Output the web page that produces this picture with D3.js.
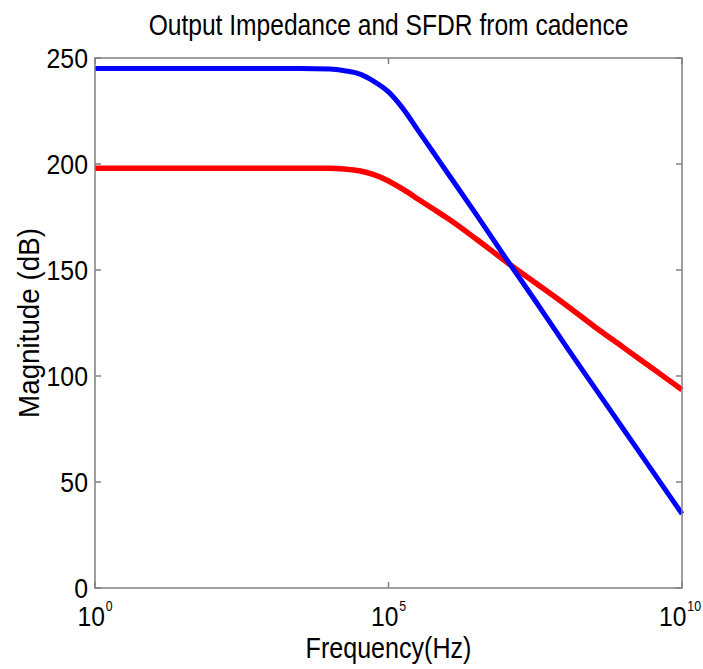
<!DOCTYPE html>
<html>
<head>
<meta charset="utf-8">
<script src="https://cdn.jsdelivr.net/npm/d3@7"></script>
<style>
  body { margin: 0; background: #fff; }
  svg { display: block; font-family: "Liberation Sans", Arial, sans-serif; }
</style>
</head>
<body>
<svg id="chart" width="703" height="669"></svg>
<script>
// frequency points as decades (10^x Hz)
const freqExp = [0, 1, 2, 3, 3.5, 4, 4.25, 4.5, 4.75, 5, 5.25, 5.5, 5.75, 6, 6.5, 7, 7.5, 8, 8.5, 9, 9.5, 10];
// output impedance (blue)
const impedance = [245, 245, 245, 245, 245, 244.8, 244, 242.5, 239, 234, 226, 216, 206, 196, 176, 155.5, 135.5, 115, 95, 75, 55, 35];
// SFDR (red)
const sfdr = [198, 198, 198, 198, 198, 198, 197.6, 196.8, 195, 192, 188, 183.5, 179, 174.5, 164.5, 154, 144, 134, 123.5, 113.5, 103.5, 93.5];
const yTicks = [0, 50, 100, 150, 200, 250];
const xTickExp = [0, 5, 10];

const svg = d3.select('#chart');
const margin = { top: 58, right: 21, bottom: 81, left: 95 };
const width = +svg.attr('width');
const height = +svg.attr('height');
const innerW = width - margin.left - margin.right;
const innerH = height - margin.top - margin.bottom;

const x = d3.scaleLog().domain([1, 1e10]).range([0, innerW]);
const y = d3.scaleLinear().domain([0, 250]).range([innerH, 0]);

const g = svg.append('g').attr('transform', `translate(${margin.left},${margin.top})`);

const axisColor = '#808080';
const tickLen = 6;

// ticks pointing inward on all four sides
const xt = xTickExp.map(e => Math.pow(10, e));
[0, innerH].forEach((yy, i) => {
  g.selectAll(null).data(xt).enter().append('line')
    .attr('x1', d => x(d)).attr('x2', d => x(d))
    .attr('y1', yy).attr('y2', i === 0 ? yy + tickLen : yy - tickLen)
    .attr('stroke', axisColor).attr('stroke-width', 1.5);
});
[0, innerW].forEach((xx, i) => {
  g.selectAll(null).data(yTicks).enter().append('line')
    .attr('y1', d => y(d)).attr('y2', d => y(d))
    .attr('x1', xx).attr('x2', i === 0 ? xx + tickLen : xx - tickLen)
    .attr('stroke', axisColor).attr('stroke-width', 1.5);
});

const line = vals => d3.line()
  .x((d, i) => x(Math.pow(10, freqExp[i])))
  .y(d => y(d))
  .curve(d3.curveMonotoneX)(vals);

g.append('path').attr('d', line(sfdr))
  .attr('fill', 'none').attr('stroke', '#ff0000').attr('stroke-width', 5.5);
g.append('path').attr('d', line(impedance))
  .attr('fill', 'none').attr('stroke', '#0000ff').attr('stroke-width', 5);

g.append('rect')
  .attr('width', innerW).attr('height', innerH)
  .attr('fill', 'none').attr('stroke', axisColor).attr('stroke-width', 1.5);

// y tick labels, slightly condensed like the original
g.selectAll('.ylab').data(yTicks).enter().append('text')
  .attr('class', 'ylab')
  .attr('transform', d => `translate(-7,${y(d)}) scale(0.92,1)`)
  .attr('dy', '0.36em')
  .attr('text-anchor', 'end')
  .attr('font-size', 27)
  .text(d => d);

// x tick labels 10^n, centred on the tick; the last one kept inside the figure
const lastExp = xTickExp[xTickExp.length - 1];
const xl = g.selectAll('.xlab').data(xTickExp).enter().append('text')
  .attr('class', 'xlab')
  .attr('transform', d => {
    const px = d === lastExp ? innerW + margin.right - 2 : x(Math.pow(10, d));
    return `translate(${px},${innerH + 38}) scale(0.88,1)`;
  })
  .attr('text-anchor', d => (d === lastExp ? 'end' : 'middle'))
  .attr('font-size', 28);
xl.append('tspan').text('10');
xl.append('tspan').attr('dx', 1).attr('dy', -15).attr('font-size', 14).text(d => d);

// condensed single-line label: measure, then squeeze to the wanted width
function label(txt, cx, cy, size, w, rot) {
  const t = svg.append('text')
    .attr('text-anchor', 'middle').attr('font-size', size).text(txt);
  const sx = w / t.node().getComputedTextLength();
  t.attr('transform', `translate(${cx},${cy}) rotate(${rot}) scale(${sx},1)`);
}

label('Output Impedance and SFDR from cadence', margin.left + innerW / 2, 35, 29, 480, 0);
label('Frequency(Hz)', margin.left + innerW / 2, 658, 30, 166, 0);
label('Magnitude (dB)', 39, margin.top + innerH / 2, 29, 190, -90);
</script>
</body>
</html>
